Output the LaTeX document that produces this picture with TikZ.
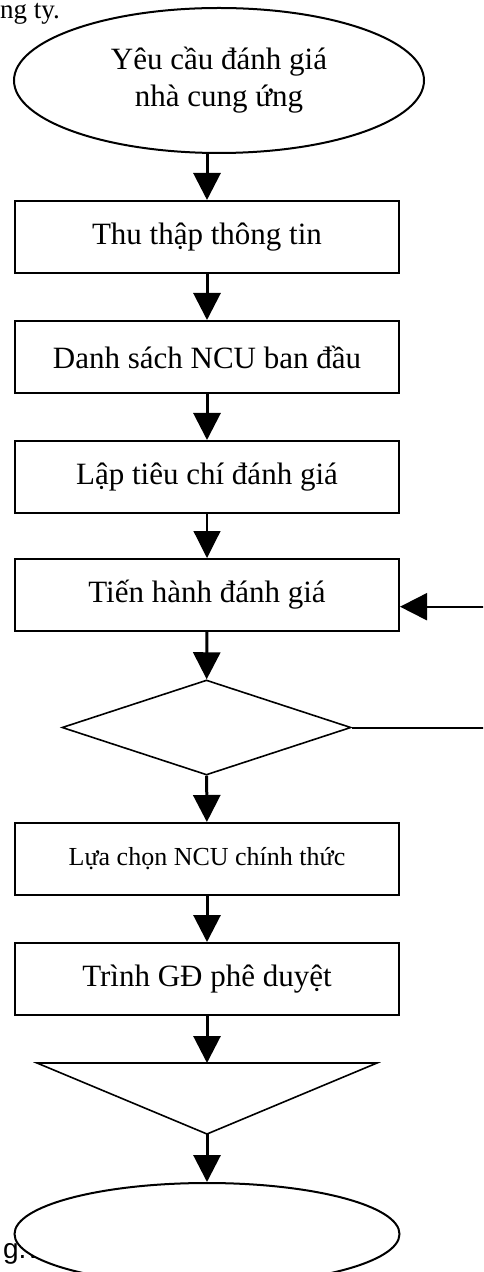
\documentclass[tikz,border=0pt]{standalone}
\usepackage{fontspec}
\setmainfont{Liberation Serif}
\newfontfamily\footfont{Liberation Sans}
\usetikzlibrary{shapes.geometric,arrows.meta}

\tikzset{
    stepbox/.style = {draw, line width=1pt, minimum width=192pt, minimum height=36pt, inner sep=0pt, font=\fontsize{15.5}{18.5}\selectfont},
    flow/.style = {line width=1.5pt, -{Triangle[length=13.5pt, width=13.5pt]}},
}

\begin{document}
\begin{tikzpicture}[x=0.5pt, y=-0.5pt]

    \clip (0,0) rectangle (483,1272);

    \node[anchor=base east, font=\fontsize{13.5}{16}\selectfont] (prevline) at (67,19) {ng ty.};
    \node[anchor=base west, font=\footfont\fontsize{14}{17}\selectfont] (footline) at (-4,1258) {g.v};

    \node[ellipse, draw, line width=1pt, minimum width=205pt, minimum height=72.5pt, inner sep=0pt, align=center, font=\fontsize{15.5}{18.5}\selectfont] (request) at (219,80.5) {Yêu cầu đánh giá\\nhà cung ứng};

    \node[stepbox] (collect) at (207,237) {Thu thập thông tin};
    \node[stepbox] (list) at (207,357) {Danh sách NCU ban đầu};
    \node[stepbox] (criteria) at (207,477) {Lập tiêu chí đánh giá};
    \node[stepbox] (assess) at (207,595) {Tiến hành đánh giá};
    \node[diamond, draw, line width=0.8pt, minimum width=144.5pt, minimum height=47.5pt, inner sep=0pt] (check) at (206.5,727.5) {};
    \node[stepbox, font=\fontsize{13}{15}\selectfont] (select) at (207,859) {Lựa chọn NCU chính thức};
    \node[stepbox] (approve) at (207,979) {Trình GĐ phê duyệt};

    % merge triangle
    \draw[line width=0.8pt] (37,1063) -- (377,1063) -- (207,1134) -- cycle;
    \coordinate (merge) at (207,1063);
    \coordinate (mergetip) at (207,1134);

    \node[ellipse, draw, fill=white, line width=1pt, minimum width=192.5pt, minimum height=51pt, inner sep=0pt] (finish) at (207,1234) {};

    \draw[flow] (request.south -| collect.north) -- (collect.north);
    \draw[flow] (collect) -- (list);
    \draw[flow] (list) -- (criteria);
    \draw[flow, line width=0.6pt] (criteria) -- (assess);
    \draw[flow] (assess) -- (check);
    \draw[flow] (check) -- (select);
    \draw[flow] (select) -- (approve);
    \draw[flow] (approve) -- (merge);
    \draw[flow] (mergetip) -- (finish);

    % loop back, runs off the right edge
    \coordinate (loopdown) at (500,727.5);
    \coordinate (loopup) at (500,606.7);
    \draw[flow, line width=1pt] (check.east) -- (loopdown) -- (loopup) -- (assess.east |- loopup);

\end{tikzpicture}
\end{document}
